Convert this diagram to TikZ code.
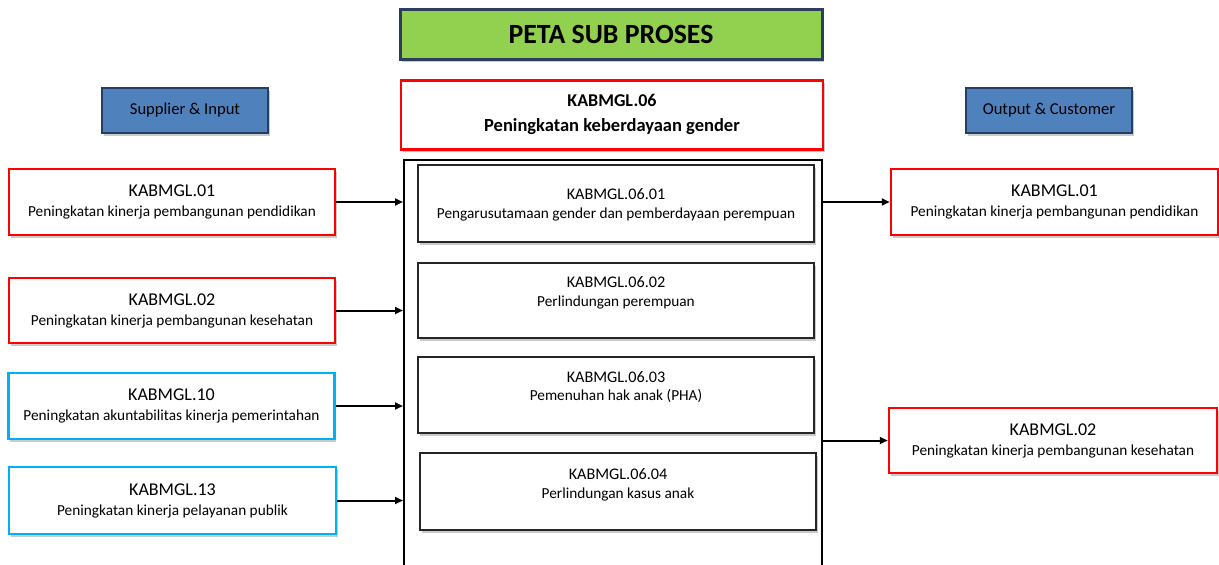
\documentclass[tikz,border=0pt]{standalone}
\usepackage{fontspec}
\setmainfont{Carlito}
\usetikzlibrary{arrows.meta,shadows}
\definecolor{tgreen}{HTML}{92D050}
\definecolor{tnavy}{HTML}{2B3E5C}
\definecolor{sblue}{HTML}{4F81BD}
\definecolor{sborder}{HTML}{243F63}
\definecolor{cyanb}{HTML}{00B0F0}
\definecolor{redb}{HTML}{FF0000}
\newcommand{\fs}[1]{\fontsize{#1}{#1}\selectfont}
\newcommand{\two}[2]{{\fs{18}#1}\\[8pt]{\fs{15.3}#2}}
\tikzset{
  shad/.style={drop shadow={shadow xshift=1.5pt,shadow yshift=-2.5pt,fill=black!35,opacity=0.6}},
  redbox/.style={draw=redb,line width=2.5pt,fill=white,shad,inner sep=0pt,align=center},
  cyanbox/.style={draw=cyanb,line width=2.5pt,fill=white,shad,inner sep=0pt,align=center},
  hdrbox/.style={draw=sborder,line width=2.5pt,fill=sblue,shad,inner sep=0pt,align=center,font=\fs{16.6}},
  subbox/.style={draw=black!85,line width=1.5pt,fill=white,shad,inner sep=0pt,align=center},
  subid/.style={font=\fs{16.2}},
  subname/.style={font=\fs{15.3}},
  arr/.style={line width=2pt,-{Triangle[length=8pt,width=7pt]}},
}
\begin{document}
\begin{tikzpicture}[x=1pt,y=-1pt]
\useasboundingbox (0,0) rectangle (1219,565);
% title
\node[draw=tnavy,line width=3pt,fill=tgreen,shad,minimum width=422pt,minimum height=50pt,inner sep=0pt,font=\fs{27.8}\bfseries] (title) at (611,34) {PETA SUB PROSES};
% main process
\node[redbox,minimum width=422pt,minimum height=69pt] (main) at (612,115) {};
\node[font=\fs{18}\bfseries] (mainid) at (612,100) {KABMGL.06};
\node[font=\fs{18.5}\bfseries] (mainname) at (612,127) {Peningkatan keberdayaan gender};
% headers
\node[hdrbox,minimum width=166pt,minimum height=45pt] (sup) at (185,110.5) {Supplier \& Input};
\node[hdrbox,minimum width=166pt,minimum height=45pt] (out) at (1049,110.5) {Output \& Customer};
% container
\node[draw=black,line width=2pt,minimum width=418pt,minimum height=430pt,anchor=north,inner sep=0pt] (cont) at (613,159) {};
% left boxes
\node[redbox,minimum width=326pt,minimum height=66pt] (l1) at (172,202) {\two{KABMGL.01}{Peningkatan kinerja pembangunan pendidikan}};
\node[redbox,minimum width=326pt,minimum height=65pt] (l2) at (172,310.5) {\two{KABMGL.02}{Peningkatan kinerja pembangunan kesehatan}};
\node[cyanbox,minimum width=326pt,minimum height=66pt] (l3) at (171.5,406) {\two{KABMGL.10}{Peningkatan akuntabilitas kinerja pemerintahan}};
\node[cyanbox,minimum width=327pt,minimum height=67pt] (l4) at (172.5,500.5) {\two{KABMGL.13}{Peningkatan kinerja pelayanan publik}};
% right boxes
\node[redbox,minimum width=327pt,minimum height=66pt] (r1) at (1054.5,202) {\two{KABMGL.01}{Peningkatan kinerja pembangunan pendidikan}};
\node[redbox,minimum width=328pt,minimum height=65pt] (r2) at (1053,440.5) {\two{KABMGL.02}{Peningkatan kinerja pembangunan kesehatan}};
% sub process boxes
\node[subbox,minimum width=396pt,minimum height=77pt] (s1) at (616,203.5) {};
\node[subid] (s1id) at (616,194) {KABMGL.06.01};
\node[subname] (s1n) at (616,215) {Pengarusutamaan gender dan pemberdayaan perempuan};
\node[subbox,minimum width=396pt,minimum height=75pt] (s2) at (616,300.5) {};
\node[subid] (s2id) at (616,282) {KABMGL.06.02};
\node[subname] (s2n) at (616,302) {Perlindungan perempuan};
\node[subbox,minimum width=396pt,minimum height=76pt] (s3) at (616,395) {};
\node[subid] (s3id) at (616,377) {KABMGL.06.03};
\node[subname] (s3n) at (616,396) {Pemenuhan hak anak (PHA)};
\node[subbox,minimum width=396pt,minimum height=77pt] (s4) at (618,491.5) {};
\node[subid] (s4id) at (618,474) {KABMGL.06.04};
\node[subname] (s4n) at (618,494) {Perlindungan kasus anak};
% arrows
\draw[arr] (l1.east) -- (l1.east -| cont.west);
\draw[arr] (l2.east) -- (l2.east -| cont.west);
\draw[arr] (l3.east) -- (l3.east -| cont.west);
\draw[arr] (l4.east) -- (l4.east -| cont.west);
\draw[arr] (r1.west -| cont.east) -- (r1.west);
\draw[arr] (r2.west -| cont.east) -- (r2.west);
\end{tikzpicture}
\end{document}
